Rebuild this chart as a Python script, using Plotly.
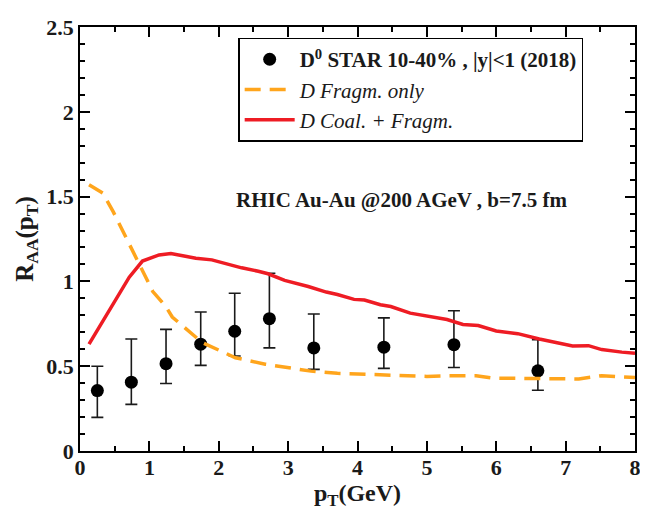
import plotly.graph_objects as go

# STAR D0 data
pt_data = [0.25, 0.74, 1.24, 1.74, 2.23, 2.73, 3.37, 4.38, 5.39, 6.60]
raa_data = [0.356, 0.406, 0.515, 0.63, 0.706, 0.78, 0.608, 0.612, 0.627, 0.473]
err_plus = [0.144, 0.254, 0.202, 0.19, 0.224, 0.268, 0.2, 0.173, 0.2, 0.183]
err_minus = [0.158, 0.131, 0.117, 0.125, 0.146, 0.172, 0.127, 0.125, 0.135, 0.115]

# D Coal. + Fragm.
pt_coal = [0.13, 0.71, 0.90, 1.14, 1.31, 1.67, 1.90, 2.33, 2.57, 2.71, 2.95, 3.29, 3.55, 3.71,
           3.95, 4.10, 4.33, 4.48, 4.76, 5.10, 5.29, 5.52, 5.74, 6.0, 6.31, 6.62, 6.90, 7.10,
           7.33, 7.52, 7.81, 8.0]
raa_coal = [0.63, 1.025, 1.12, 1.156, 1.164, 1.137, 1.127, 1.08, 1.06, 1.045, 1.006, 0.97, 0.937,
            0.923, 0.894, 0.89, 0.862, 0.852, 0.813, 0.79, 0.775, 0.746, 0.740, 0.708, 0.692,
            0.66, 0.635, 0.619, 0.621, 0.598, 0.583, 0.577]

# D Fragm. only
pt_frag = [0.13, 0.33, 0.48, 0.64, 0.81, 1.05, 1.24, 1.33, 1.76, 2.24, 2.67, 3.33, 3.71, 4.14,
           4.57, 5.0, 5.33, 5.71, 5.95, 6.57, 7.19, 7.52, 8.0]
raa_frag = [1.57, 1.52, 1.41, 1.275, 1.14, 0.94, 0.85, 0.79, 0.64, 0.55, 0.512, 0.471, 0.458,
            0.452, 0.448, 0.44, 0.443, 0.444, 0.43, 0.425, 0.425, 0.444, 0.433]

# tick labels
x_tickvals = [0, 1, 2, 3, 4, 5, 6, 7, 8]
x_ticklabels = ["0", "1", "2", "3", "4", "5", "6", "7", "8"]
y_tickvals = [0, 0.5, 1, 1.5, 2, 2.5]
y_ticklabels = ["0", "0.5", "1", "1.5", "2", "2.5"]

serif = "Times New Roman, Liberation Serif, DejaVu Serif, serif"
ink = "#1a1a1a"

fig = go.Figure()
fig.add_trace(go.Scatter(
    x=pt_data, y=raa_data, mode="markers",
    name="<b>D<sup>0</sup> STAR 10-40% , |y|<1 (2018)</b>",
    marker=dict(color="black", size=13, symbol="circle"),
    error_y=dict(type="data", array=err_plus, arrayminus=err_minus,
                 color=ink, thickness=1.6, width=6),
))
fig.add_trace(go.Scatter(
    x=pt_frag, y=raa_frag, mode="lines", name="<i>D Fragm. only</i>",
    line=dict(color="#FFA51C", width=3.5, dash="16px,9px"),
))
fig.add_trace(go.Scatter(
    x=pt_coal, y=raa_coal, mode="lines", name="<i>D Coal. + Fragm.</i>",
    line=dict(color="#EE1C24", width=3.5),
))

axis_common = dict(
    showline=True, linecolor="black", linewidth=1.5, mirror="allticks",
    ticks="inside", ticklen=10, tickwidth=1.5, tickcolor="black",
    showgrid=False, zeroline=False, ticklabeloverflow="allow",
    tickfont=dict(family=serif, size=22, color=ink, weight="bold"),
)

fig.update_xaxes(
    range=[0, 8], tickmode="array", tickvals=x_tickvals,
    ticktext=["<b>%s</b>" % t for t in x_ticklabels],
    ticklabelstandoff=-4,
    minor=dict(ticks="inside", dtick=0.5, ticklen=5, tickwidth=1.5, tickcolor="black"),
    title=dict(text="<b>p<sub>T</sub>(GeV)</b>", font=dict(family=serif, size=24, color=ink),
               standoff=0),
    **axis_common,
)
fig.update_yaxes(
    range=[0, 2.5], tickmode="array", tickvals=y_tickvals,
    ticktext=["<b>%s</b>" % t for t in y_ticklabels],
    minor=dict(ticks="inside", dtick=0.1, ticklen=5, tickwidth=1.5, tickcolor="black"),
    title=dict(text="<b>R<sub>AA</sub>(p<sub>T</sub>)</b>", font=dict(family=serif, size=25, color=ink),
               standoff=6),
    **axis_common,
)

fig.add_annotation(
    x=4.64, y=1.48, xref="x", yref="y", showarrow=False,
    text="<b>RHIC Au-Au @200 AGeV , b=7.5 fm</b>",
    font=dict(family=serif, size=21, color=ink),
)

# page body has an 8px margin, so the figure is sized to fit the window
fig.update_layout(
    width=640, height=503,
    margin=dict(l=72, r=7, t=10, b=60),
    paper_bgcolor="white", plot_bgcolor="white",
    showlegend=True,
    legend=dict(
        x=0.285, y=0.975, xanchor="left", yanchor="top",
        bgcolor="white", bordercolor="black", borderwidth=1.5,
        font=dict(family=serif, size=21, color=ink),
        itemwidth=50, tracegroupgap=0,
        entrywidth=300, entrywidthmode="pixels",
    ),
)

fig.write_html("out.html")
